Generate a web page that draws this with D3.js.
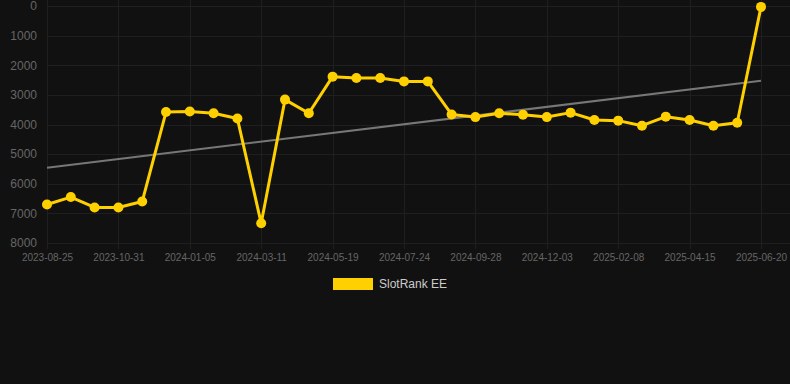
<!doctype html>
<html>
<head>
  <meta charset="utf-8">
  <title>SlotRank EE</title>
  <style>
    html, body { margin: 0; padding: 0; background: #111111; }
    svg { display: block; font-family: Arial, "Liberation Sans", Helvetica, sans-serif; }
    .grid line { stroke: #1f1f1f; stroke-width: 1; }
    .axis text { fill: #666666; }
    .axis path, .axis line { display: none; }
  </style>
</head>
<body>
  <div id="chart"></div>
  <script src="https://d3js.org/d3.v7.min.js"></script>
  <script>
    // categories (every 3rd is shown on the axis)
    const dates = [
      '2023-08-25', '2023-09-16', '2023-10-09', '2023-10-31', '2023-11-22', '2023-12-14',
      '2024-01-05', '2024-01-27', '2024-02-18', '2024-03-11', '2024-04-03', '2024-04-26',
      '2024-05-19', '2024-06-10', '2024-07-02', '2024-07-24', '2024-08-15', '2024-09-06',
      '2024-09-28', '2024-10-20', '2024-11-11', '2024-12-03', '2024-12-25', '2025-01-17',
      '2025-02-08', '2025-03-02', '2025-03-24', '2025-04-15', '2025-05-07', '2025-05-29',
      '2025-06-20'
    ];
    // rank values
    const ranks = [
      6700, 6450, 6800, 6800, 6600, 3580,
      3560, 3620, 3800, 7335, 3160, 3620,
      2385, 2430, 2430, 2545, 2545, 3660,
      3750, 3620, 3670, 3750, 3600, 3850,
      3870, 4040, 3735, 3850, 4040, 3940,
      30
    ];
    const yTicks = [0, 1000, 2000, 3000, 4000, 5000, 6000, 7000, 8000];
    const seriesName = 'SlotRank EE';

    const width = 790;
    const height = 384;
    const plotL = 47, plotR = 761, plotT = 6, plotB = 243;
    const gold = '#ffd000';

    const svg = d3.select('#chart').append('svg')
      .attr('width', width).attr('height', height);

    const x = d3.scalePoint().domain(dates).range([plotL, plotR]);
    const y = d3.scaleLinear().domain([0, 8000]).range([plotT, plotB]);

    const shown = dates.filter((d, i) => i % 3 === 0);

    // grid
    const grid = svg.append('g').attr('class', 'grid');
    grid.selectAll('line.h').data(yTicks).join('line')
      .attr('class', 'h')
      .attr('x1', plotL).attr('x2', width)
      .attr('y1', d => Math.round(y(d)) + 0.5).attr('y2', d => Math.round(y(d)) + 0.5);
    grid.selectAll('line.v').data(shown).join('line')
      .attr('class', 'v')
      .attr('x1', d => Math.round(x(d)) + 0.5).attr('x2', d => Math.round(x(d)) + 0.5)
      .attr('y1', 0).attr('y2', plotB + 6);

    // axes
    svg.append('g').attr('class', 'axis')
      .attr('transform', `translate(${plotL - 10},0)`)
      .call(d3.axisLeft(y).tickValues(yTicks).tickSize(0).tickPadding(0).tickFormat(d3.format('d')))
      .selectAll('text').style('font-size', '12px');

    svg.append('g').attr('class', 'axis')
      .attr('transform', `translate(0,${plotB + 8})`)
      .call(d3.axisBottom(x).tickValues(shown).tickSize(0).tickPadding(3))
      .selectAll('text').style('font-size', '10px');

    // linear trend of the series
    const n = ranks.length;
    const mx = d3.mean(ranks, (d, i) => i);
    const my = d3.mean(ranks);
    const slope = d3.sum(ranks, (d, i) => (i - mx) * (d - my)) / d3.sum(ranks, (d, i) => (i - mx) * (i - mx));
    const trend = [0, n - 1].map(i => ({ i, v: my + slope * (i - mx) }));

    svg.append('path')
      .datum(trend)
      .attr('fill', 'none')
      .attr('stroke', '#777777')
      .attr('stroke-width', 2)
      .attr('d', d3.line().x(d => x(dates[d.i])).y(d => y(d.v)));

    // series
    svg.append('path')
      .datum(ranks)
      .attr('fill', 'none')
      .attr('stroke', gold)
      .attr('stroke-width', 3)
      .attr('stroke-linejoin', 'round')
      .attr('d', d3.line().x((d, i) => x(dates[i])).y(d => y(d)));

    svg.append('g').selectAll('circle').data(ranks).join('circle')
      .attr('cx', (d, i) => x(dates[i]))
      .attr('cy', d => y(d))
      .attr('r', 5)
      .attr('fill', gold);

    // legend
    const legend = svg.append('g').attr('transform', 'translate(333,278)');
    legend.append('rect').attr('width', 40).attr('height', 12).attr('fill', gold);
    legend.append('text')
      .attr('x', 46).attr('y', 6).attr('dy', '0.35em')
      .attr('fill', '#cccccc').style('font-size', '12px')
      .text(seriesName);
  </script>
</body>
</html>
